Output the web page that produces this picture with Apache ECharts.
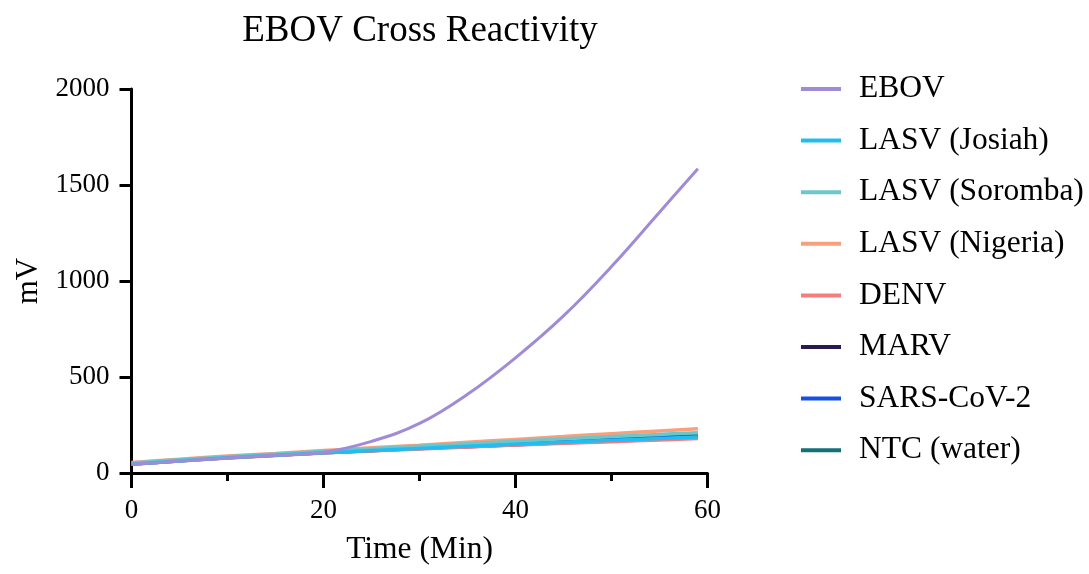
<!DOCTYPE html>
<html>
<head>
<meta charset="utf-8">
<script src="https://cdn.jsdelivr.net/npm/echarts@6/dist/echarts.min.js"></script>
<style>html,body{margin:0;padding:0;background:#fff;}#c{width:1089px;height:574px;}</style>
</head>
<body>
<div id="c"></div>
<script>
var times = [0, 5, 10, 15, 20, 25, 30, 35, 40, 45, 50, 55, 59];
var seriesNames = ['EBOV', 'LASV (Josiah)', 'LASV (Soromba)', 'LASV (Nigeria)', 'DENV', 'MARV', 'SARS-CoV-2', 'NTC (water)'];
var ebov    = [45, 62, 78, 93, 108, 165, 258, 410, 600, 818, 1075, 1358, 1585];
var josiah  = [46, 63, 79, 92, 105, 117, 128, 139, 150, 160, 170, 180, 188];
var soromba = [52, 69, 85, 99, 113, 126, 139, 152, 165, 178, 190, 201, 210];
var nigeria = [55, 72, 88, 102, 117, 131, 145, 160, 175, 190, 205, 219, 230];
var denv    = [44, 61, 77, 90, 103, 114, 124, 134, 144, 153, 162, 171, 178];
var marv    = [45, 62, 78, 91, 104, 115, 126, 136, 146, 156, 165, 174, 182];
var sars    = [48, 65, 80, 94, 107, 119, 130, 141, 152, 163, 173, 183, 192];
var ntc     = [49, 66, 82, 96, 109, 121, 133, 145, 157, 168, 179, 189, 198];
var yTicks = [0, 500, 1000, 1500, 2000];
var xTicks = [0, 20, 40, 60];

var allValues = [ebov, josiah, soromba, nigeria, denv, marv, sars, ntc];
var colors = ['#a08bd7', '#22bdf0', '#6cc7cc', '#f8a07c', '#f77d7d', '#2a1a52', '#1450e6', '#147179'];
var widths = [3, 3.5, 3.5, 3.5, 3, 3, 3, 3];

var FONT = 'Liberation Serif';
var series = allValues.map(function (vals, i) {
  return {
    name: seriesNames[i],
    type: 'line',
    data: vals.map(function (v, j) { return [times[j], v]; }),
    smooth: 0.4,
    showSymbol: false,
    symbol: 'none',
    z: 20 - i,
    lineStyle: { color: colors[i], width: widths[i] },
    itemStyle: { color: colors[i] }
  };
});

var chart = echarts.init(document.getElementById('c'), null, { renderer: 'canvas' });
chart.setOption({
  backgroundColor: '#ffffff',
  animation: false,
  title: {
    text: 'EBOV Cross Reactivity',
    left: 415, top: 8, textAlign: 'center',
    textStyle: { fontFamily: FONT, fontSize: 37, fontWeight: 'normal', color: '#000' }
  },
  legend: {
    orient: 'vertical',
    left: 796, top: 68,
    icon: 'rect',
    itemWidth: 40, itemHeight: 4,
    itemGap: 19.6,
    data: seriesNames,
    textStyle: { fontFamily: FONT, fontSize: 31.5, color: '#000', lineHeight: 30, padding: [0, 0, 0, 13] }
  },
  grid: { left: 131.5, right: 381.5, top: 89, bottom: 101, containLabel: false },
  xAxis: {
    type: 'value', min: 0, max: 60, interval: 20,
    name: 'Time (Min)', nameLocation: 'middle', nameGap: 61,
    nameTextStyle: { fontFamily: FONT, fontSize: 31.5, color: '#000' },
    axisLine: { show: true, onZero: false, lineStyle: { color: '#000', width: 3 } },
    axisTick: { show: true, length: 15, lineStyle: { color: '#000', width: 3 } },
    minorTick: { show: true, splitNumber: 2, length: 8, lineStyle: { color: '#000', width: 3 } },
    splitLine: { show: false },
    axisLabel: { fontFamily: FONT, fontSize: 27, color: '#000', margin: 24,
      formatter: function (v) { return xTicks.indexOf(v) >= 0 ? String(v) : ''; } }
  },
  yAxis: {
    type: 'value', min: 0, max: 2000, interval: 500,
    name: 'mV', nameLocation: 'middle', nameGap: 82, nameRotate: 90,
    nameTextStyle: { fontFamily: FONT, fontSize: 31, color: '#000' },
    axisLine: { show: true, lineStyle: { color: '#000', width: 3 } },
    axisTick: { show: true, length: 12, lineStyle: { color: '#000', width: 3 } },
    splitLine: { show: false },
    axisLabel: { fontFamily: FONT, fontSize: 27, color: '#000', margin: 22,
      formatter: function (v) { return yTicks.indexOf(v) >= 0 ? String(v) : ''; } }
  },
  series: series
});
</script>
</body>
</html>
